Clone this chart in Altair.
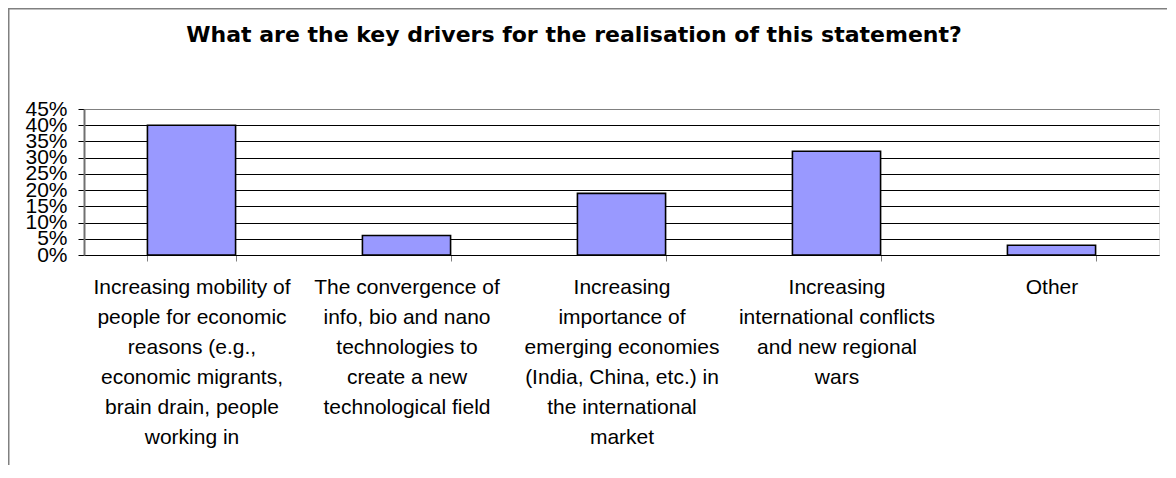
import altair as alt
import pandas as pd

categories = [
    "Increasing mobility of\npeople for economic\nreasons (e.g.,\neconomic migrants,\nbrain drain, people\nworking in",
    "The convergence of\ninfo, bio and nano\ntechnologies to\ncreate a new\ntechnological field",
    "Increasing\nimportance of\nemerging economies\n(India, China, etc.) in\nthe international\nmarket",
    "Increasing\ninternational conflicts\nand new  regional\nwars",
    "Other",
]
shares = [0.40, 0.06, 0.19, 0.32, 0.03]
y_ticks = [0, 0.05, 0.10, 0.15, 0.20, 0.25, 0.30, 0.35, 0.40, 0.45]
title_text = "What are the key drivers for the realisation of this statement?"

df = pd.DataFrame({"driver": categories, "share": shares})

W, H = 1075, 146
PAD = {"left": 76, "top": 101, "right": 8, "bottom": 210}

bars = alt.Chart(df).mark_bar(
    color="#9999FF", stroke="black", strokeWidth=1.6
).encode(
    x=alt.X(
        "driver:N",
        sort=categories,
        scale=alt.Scale(paddingInner=0.59, paddingOuter=0.295),
        axis=alt.Axis(
            title=None,
            labelExpr="split(datum.label, '\\n')",
            labelAngle=0,
            labelAlign="center",
            labelBaseline="top",
            labelLineHeight=30,
            labelPadding=15,
            labelFont="Liberation Sans",
            labelFontSize=21,
            labelColor="black",
            labelLimit=0,
            labelOverlap=False,
            tickBand="extent",
            tickSize=6,
            tickColor="#808080",
            domainColor="black",
            domainWidth=1,
        ),
    ),
    y=alt.Y(
        "share:Q",
        scale=alt.Scale(domain=[0, 0.45], nice=False),
        axis=alt.Axis(
            title=None,
            values=y_ticks,
            format=".0%",
            labelFont="Liberation Sans",
            labelFontSize=21,
            labelColor="black",
            labelPadding=11,
            labelOverlap=False,
            labelBound=False,
            labelFlush=False,
            tickSize=6,
            tickColor="black",
            domainColor="#707070",
            domainWidth=2,
            grid=True,
            gridColor={"condition": {"test": "datum.value > 0.44", "value": "#808080"}, "value": "black"},
            gridWidth=1,
            gridOpacity=1,
        ),
    ),
)

frame_src = alt.Data(values=[{"k": 1}])
frame_left = alt.Chart(frame_src).mark_rule(color="#808080", strokeWidth=1.5).encode(
    x=alt.value(-PAD["left"] + 0.75), y=alt.value(-PAD["top"]), y2=alt.value(H + PAD["bottom"])
)
frame_top = alt.Chart(frame_src).mark_rule(color="#808080", strokeWidth=1.5).encode(
    x=alt.value(-PAD["left"]), x2=alt.value(W + PAD["right"]), y=alt.value(-PAD["top"] + 0.75)
)

chart = alt.layer(bars, frame_left, frame_top).properties(
    width=W,
    height=H,
    padding=PAD,
    autosize=alt.AutoSizeParams(type="none"),
    title=alt.TitleParams(
        text=title_text,
        font="DejaVu Sans",
        fontSize=22,
        fontWeight="bold",
        color="black",
        anchor="middle",
        frame="group",
        dx=-47.5,
        dy=57,
        baseline="alphabetic",
        offset=0,
    ),
).configure_view(
    fill="#C0C0C0", stroke="#808080", strokeWidth=2
).configure(background="white")

chart.save("out.html", embed_options={"renderer": "svg", "actions": False})
